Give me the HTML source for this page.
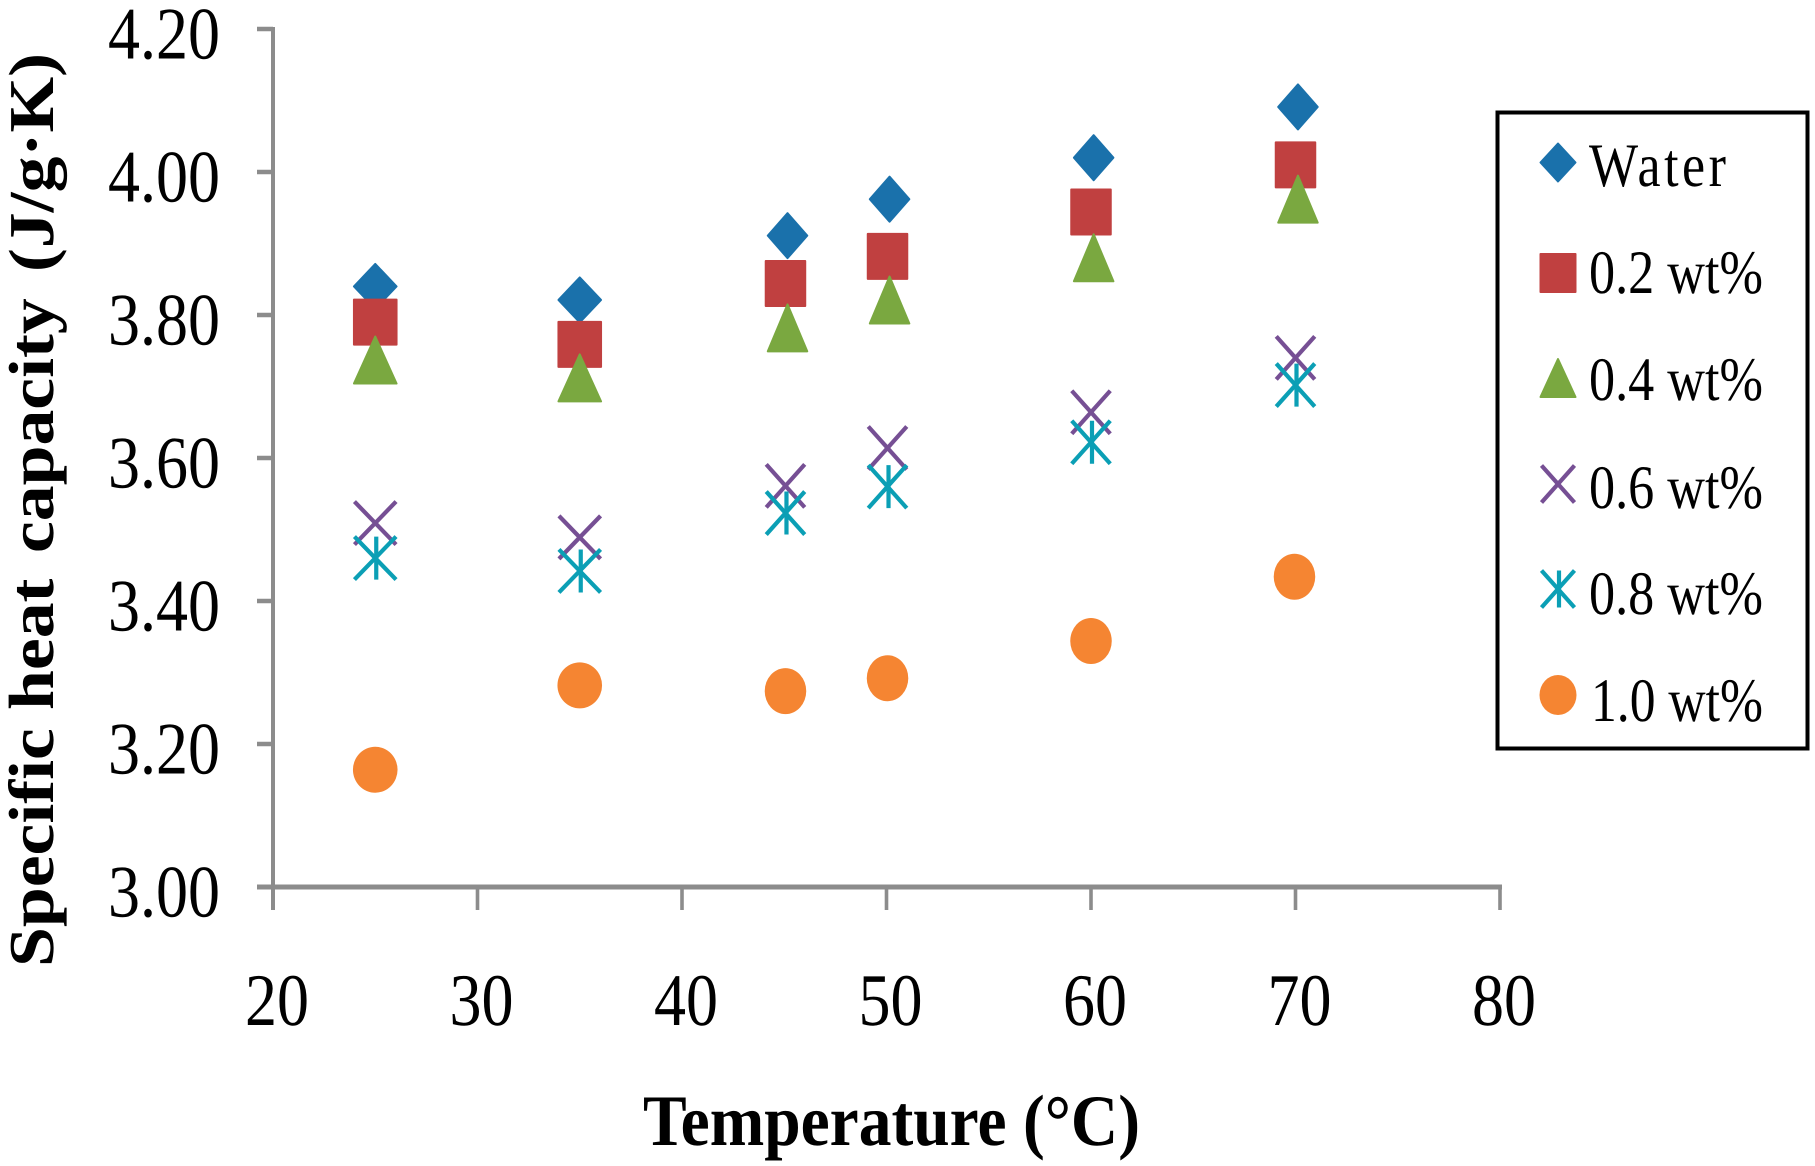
<!DOCTYPE html>
<html lang="en">
<head>
<meta charset="utf-8">
<title>Specific heat capacity vs temperature</title>
<style>
  html,body{margin:0;padding:0;background:#fff;}
  svg{display:block;}
  text{font-family:"Liberation Serif","DejaVu Serif",serif;fill:#000;white-space:pre;text-rendering:geometricPrecision;}
</style>
</head>
<body>
<svg id="chart" xmlns="http://www.w3.org/2000/svg" width="1815" height="1166" viewBox="0 0 1815 1166">
  <rect x="0" y="0" width="1815" height="1166" fill="#fff"/>
  <g id="axes"></g>
  <g id="marks"></g>
  <text transform="translate(53,967) rotate(-90) scale(1.12,1)" font-size="64" font-weight="bold"><tspan x="0">Specific </tspan><tspan x="229.5">heat </tspan><tspan x="369.6">capacity </tspan><tspan x="620.5">(J/g·K)</tspan></text>
  <text transform="translate(643,1145) scale(1,1.125)" font-size="64.5" font-weight="bold" textLength="497" lengthAdjust="spacingAndGlyphs">Temperature (°C)</text>
  <g id="legend">
    <rect x="1497.5" y="112.5" width="310" height="636" fill="#fff" stroke="#000" stroke-width="4"/>
  </g>
</svg>
<script>
const xTicks = [20, 30, 40, 50, 60, 70, 80];
const yTicks = ["3.00", "3.20", "3.40", "3.60", "3.80", "4.00", "4.20"];

const waterTemps = [25, 35, 45.16, 50.15, 60.13, 70.12];
const waterValues = [3.84, 3.821, 3.911, 3.962, 4.02, 4.091];
const wt02Temps = [25, 35, 45.06, 50.05, 60, 70];
const wt02Values = [3.79, 3.759, 3.844, 3.882, 3.944, 4.01];
const wt04Temps = [25, 35, 45.16, 50.15, 60.13, 70.12];
const wt04Values = [3.737, 3.712, 3.782, 3.821, 3.88, 3.962];
const wt06Temps = [25, 35, 45.06, 50.05, 60, 70];
const wt06Values = [3.509, 3.489, 3.561, 3.614, 3.664, 3.74];
const wt08Temps = [25, 35, 45.06, 50.05, 60, 70];
const wt08Values = [3.46, 3.442, 3.523, 3.56, 3.622, 3.702];
const wt10Temps = [25, 35, 45.06, 50.05, 60, 69.95];
const wt10Values = [3.164, 3.282, 3.274, 3.292, 3.344, 3.434];

const seriesNames = ["Water", "0.2 wt%", "0.4 wt%", "0.6 wt%", "0.8 wt%", "1.0 wt%"];

const SVGNS = "http://www.w3.org/2000/svg";
function xScale(v){ return 273 + (v - 20) * 20.45; }
function yScale(v){ return 887 - (v - 3) * 715; }
function make(tag, attrs, parent){
  const el = document.createElementNS(SVGNS, tag);
  for (const k in attrs) el.setAttribute(k, attrs[k]);
  parent.appendChild(el);
  return el;
}

const COLORS = {blue:"#1a71ab", red:"#c04040", green:"#7aa840", purple:"#764f94", teal:"#0b9fb5", orange:"#f58532"};

function diamond(p, cx, cy, w, h){
  make("polygon", {points:`${cx-w/2+1},${cy} ${cx},${cy-h/2+1} ${cx+w/2-1},${cy} ${cx},${cy+h/2-1}`, fill:COLORS.blue, stroke:COLORS.blue, "stroke-width":2, "stroke-linejoin":"round"}, p);
}
function square(p, cx, cy, w, h){
  make("rect", {x:cx-w/2+1, y:cy-h/2+1, width:w-2, height:h-2, fill:COLORS.red, stroke:COLORS.red, "stroke-width":2, "stroke-linejoin":"round"}, p);
}
function triangle(p, cx, cy, w, h){
  make("polygon", {points:`${cx-w/2+1},${cy+h/2-1} ${cx},${cy-h/2+1} ${cx+w/2-1},${cy+h/2-1}`, fill:COLORS.green, stroke:COLORS.green, "stroke-width":2, "stroke-linejoin":"round"}, p);
}
function cross(p, cx, cy, w, h, color){
  make("line", {x1:cx-w/2, y1:cy-h/2, x2:cx+w/2, y2:cy+h/2, stroke:color, "stroke-width":4.2}, p);
  make("line", {x1:cx-w/2, y1:cy+h/2, x2:cx+w/2, y2:cy-h/2, stroke:color, "stroke-width":4.2}, p);
}
function star(p, cx, cy, w, h){
  cross(p, cx, cy, w, h, COLORS.teal);
  make("line", {x1:cx+1, y1:cy-h/2, x2:cx+1, y2:cy+h/2, stroke:COLORS.teal, "stroke-width":4.2}, p);
}
function circle(p, cx, cy, w, h){
  make("ellipse", {cx:cx, cy:cy, rx:w/2, ry:h/2, fill:COLORS.orange}, p);
}

const axes = document.getElementById("axes");
const AXIS = "#8c8c8c";
const yLine = make("line", {x1:273, y1:yScale(3)+23, x2:273, y2:yScale(4.2)-2, stroke:AXIS, "stroke-width":4}, axes);


const xLine = make("line", {x1:257, y1:yScale(3), x2:xScale(80)+2, y2:yScale(3), stroke:AXIS, "stroke-width":5}, axes);



yTicks.forEach(function(label){
  const v = parseFloat(label);
  const y = yScale(v);
  const tick = make("line", {x1:257, y1:y, x2:273, y2:y, stroke:AXIS, "stroke-width":4.5}, axes);
  
  
  const t = make("text", {transform:`translate(220,${y+29.5}) scale(1,1.16)`, "font-size":64, "text-anchor":"end"}, axes);
  t.textContent = label;
  
  
});
xTicks.forEach(function(v){
  const x = xScale(v);
  const tick = make("line", {x1:x, y1:yScale(3), x2:x, y2:yScale(3)+23, stroke:AXIS, "stroke-width":3.6}, axes);
  
  
  const t = make("text", {transform:`translate(${x+4},1025) scale(1,1.16)`, "font-size":64, "text-anchor":"middle"}, axes);
  t.textContent = String(v);
  
  
});

function markerWidth(t){ return t < 40 ? 44.6 : 41.5; }
const marks = document.getElementById("marks");
function drawSeries(temps, values, draw, h, wAdj, name){
  const g = make("g", {}, marks);
  
  
  temps.forEach(function(t, i){
    const pt = make("g", {}, g);
    
    
    draw(pt, xScale(t), yScale(values[i]), markerWidth(t) + wAdj, h);
  });
}
drawSeries(waterTemps, waterValues, diamond, 47, 0, "series-water");
drawSeries(wt02Temps, wt02Values, square, 47, 0, "series-0-2-wt");
drawSeries(wt04Temps, wt04Values, triangle, 49, 0, "series-0-4-wt");
drawSeries(wt06Temps, wt06Values, function(p,x,y,w,h){ cross(p,x,y,w,h,COLORS.purple); }, 43, -3, "series-0-6-wt");
drawSeries(wt08Temps, wt08Values, star, 43, -3, "series-0-8-wt");
drawSeries(wt10Temps, wt10Values, circle, 46, 0, "series-1-0-wt");

const legend = document.getElementById("legend");
const legendDraw = [diamond, square, triangle, function(p,x,y,w,h){ cross(p,x,y,w,h,COLORS.purple); }, star, circle];
const legendMarkY = [162.5, 273, 378, 484, 589, 695];
const legendTextY = [186, 293, 400, 508, 614, 721];
seriesNames.forEach(function(name, i){
  const g = make("g", {}, legend);
  
  
  const isLine = i === 3 || i === 4;
  legendDraw[i](g, 1558, legendMarkY[i], isLine ? 33 : 37, isLine ? 37 : 40);
  const t = make("text", {transform:`translate(${i === 5 ? 1591 : 1589},${legendTextY[i]}) scale(1,1.19)`, "font-size":52}, g);
  t.textContent = name;
  
  
  t.setAttribute('textLength', i === 0 ? 137 : (i === 5 ? 172 : 174));
  t.setAttribute('lengthAdjust', i === 0 ? 'spacing' : 'spacingAndGlyphs');
});
</script>
</body>
</html>
